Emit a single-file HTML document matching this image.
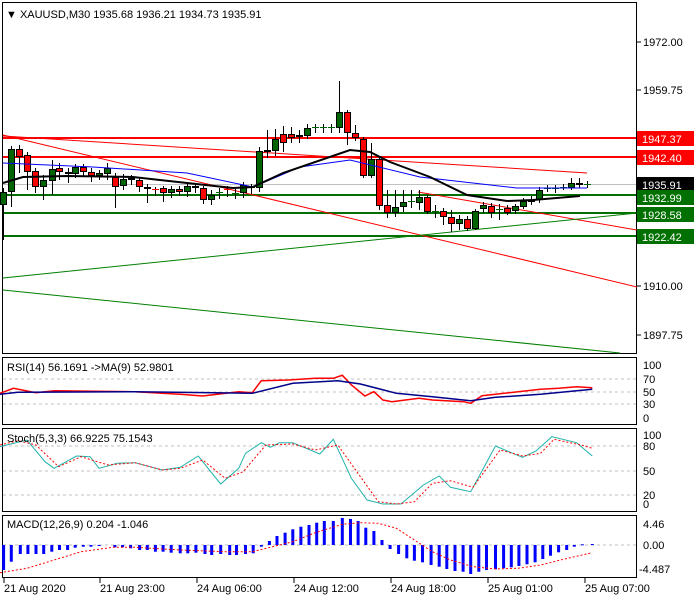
<!DOCTYPE html>
<html><head><meta charset="utf-8"><style>
body{margin:0;background:#fff;width:700px;height:600px;overflow:hidden}
svg{display:block}
text{font-family:"Liberation Sans",sans-serif;font-size:11px}
</style></head><body>
<svg id="s" width="700" height="600" xmlns="http://www.w3.org/2000/svg">
<rect width="700" height="600" fill="#fff"/>
<g fill="none" stroke="#000" stroke-width="1">
<rect x="2.5" y="2.5" width="634" height="351"/>
<rect x="2.5" y="357.5" width="634" height="67"/>
<rect x="2.5" y="428.5" width="634" height="83"/>
<rect x="2.5" y="515.5" width="634" height="62"/>
</g>
<g id="g"></g>
<text x="6" y="18" font-size="12">▼ XAUUSD,M30  1935.68 1936.21 1934.73 1935.91</text>
<g font-size="11">
<text x="643" y="46">1972.00</text><text x="643" y="94">1959.75</text>
<text x="643" y="290">1910.00</text><text x="643" y="339">1897.75</text>
<text x="7" y="371">RSI(14) 56.1691  -&gt;MA(9) 52.9801</text>
<text x="643" y="369">100</text><text x="643" y="383">70</text><text x="643" y="396">50</text><text x="643" y="408">30</text><text x="643" y="422">0</text>
<text x="7" y="442">Stoch(5,3,3) 66.9225 75.1543</text>
<text x="643" y="439">100</text><text x="643" y="450">80</text><text x="643" y="475">50</text><text x="643" y="499">20</text><text x="643" y="508">0</text>
<text x="7" y="528">MACD(12,26,9) 0.204 -1.046</text>
<text x="643" y="528">4.46</text><text x="643" y="549">0.00</text><text x="639" y="573">-4.487</text>
<text x="4" y="592">21 Aug 2020</text><text x="100" y="592">21 Aug 23:00</text><text x="197" y="592">24 Aug 06:00</text>
<text x="294" y="592">24 Aug 12:00</text><text x="391" y="592">24 Aug 18:00</text><text x="488" y="592">25 Aug 01:00</text><text x="585" y="592">25 Aug 07:00</text>
</g>
</svg>
<script>
var g=document.getElementById('g'),h='';
function L(x1,y1,x2,y2,c,w,d){h+='<line x1="'+x1+'" y1="'+y1+'" x2="'+x2+'" y2="'+y2+'" stroke="'+c+'" stroke-width="'+(w||1)+'"'+(d?' stroke-dasharray="'+d+'"':'')+'/>';}
function P(pts,c,w,d){h+='<polyline fill="none" points="'+pts.map(function(p){return p.join(',')}).join(' ')+'" stroke="'+c+'" stroke-width="'+(w||1)+'"'+(d?' stroke-dasharray="'+d+'"':'')+'/>';}
function R(x,y,w,hh,c){h+='<rect x="'+x+'" y="'+y+'" width="'+w+'" height="'+hh+'" fill="'+c+'"/>';}
// grid dashed
[379,392,404].forEach(function(y){L(3,y,636,y,'#c0c0c0',1,'3,3')});
[446,471,495].forEach(function(y){L(3,y,636,y,'#c0c0c0',1,'3,3')});
L(3,545,636,545,'#c0c0c0',1,'3,3');
L(3,184.5,636,184.5,'#c0c0c0',1);
// horizontal levels
L(3,138,636,138,'#f00',2);L(3,157,636,157,'#f00',2);
L(3,195,636,195,'#007000',2);L(3,213,636,213,'#007000',2);L(3,236,636,236,'#007000',2);
// diagonals
L(3,135,637,287,'#f00',1);L(3,136,587,173,'#f00',1);L(418,192,637,230,'#f00',1);
L(3,278,637,213,'#008000',1);L(3,290,620,353,'#008000',1);
// candles: x, bodyTop, bodyBot, wickTop, wickBot, up?
var C=[[3,192,205,188,240,1],[11,149,192,146,207,1],[19,149,157,145,173,0],[27,155,172,152,190,0],[35,171,187,168,193,0],[43,180,187,175,200,1],[52,169,181,160,195,1],[59,168,172,163,180,0],[68,172,174,168,183,0],[75,167,174,164,178,1],[83,167,172,164,176,0],[91,172,176,168,182,0],[99,173,176,170,180,1],[107,168,174,163,180,1],[115,177,187,173,208,0],[123,179,186,174,190,1],[131,178,180,175,185,0],[139,180,187,177,192,0],[147,187,189,184,203,0],[155,189,190,187,196,0],[163,188,193,186,202,0],[171,189,193,186,198,1],[179,189,192,186,196,0],[187,186,192,182,197,1],[195,186,188,183,193,0],[203,188,200,186,204,0],[211,195,200,190,205,1],[219,192,193,188,199,1],[227,189,190,186,197,0],[235,193,194,188,199,1],[243,185,193,182,198,1],[251,187,188,184,194,1],[259,151,188,147,192,1],[267,150,152,130,158,1],[275,139,151,129,156,1],[283,134,143,126,152,0],[291,134,138,127,143,0],[299,135,137,130,143,1],[307,128,136,124,139,1],[315,127,128,124,133,1],[323,127,128,124,133,1],[331,127,128,124,133,1],[339,112,128,81,133,1],[347,112,133,110,145,0],[355,133,138,125,141,0],[363,139,176,137,178,0],[371,159,176,143,178,1],[379,159,206,157,210,0],[387,205,213,190,218,0],[395,207,213,190,217,1],[403,202,207,190,212,1],[411,201,202,190,208,1],[419,197,203,190,210,1],[427,197,212,195,214,0],[435,211,212,205,218,1],[443,211,217,208,225,0],[451,217,224,210,232,0],[459,219,224,215,230,1],[467,219,229,216,231,0],[475,211,229,209,230,1],[483,205,209,202,213,1],[491,206,213,203,218,0],[499,209,210,204,220,1],[507,208,213,205,215,0],[515,206,211,204,214,1],[523,201,207,198,209,1],[531,200,202,196,205,1],[539,190,200,187,203,1],[547,188,189,185,192,1],[555,188,189,185,193,1],[563,187,188,184,190,1],[571,183,188,178,190,1],[579,183,185,178,188,0],[587,184,185,181,188,1]];
C.forEach(function(c){L(c[0]+0.5,c[3],c[0]+0.5,c[4],'#000',1);var hh=Math.max(1,c[2]-c[1]);R(c[0]-3,c[1],7,hh,c[5]?'#006400':'#f00');h+='<rect x="'+(c[0]-2.5)+'" y="'+(c[1]+0.5)+'" width="6" height="'+Math.max(0,hh-1)+'" fill="none" stroke="#000" stroke-width="1"/>';});
// MAs
P([[3,163],[93,167],[187,173],[253,187],[300,167],[350,160],[420,177],[517,188],[587,188]],'#00f',1);
P([[3,183],[23,177],[67,176],[133,177],[187,183],[233,188],[253,187],[283,173],[350,150],[370,152],[390,162],[430,177],[467,195],[507,201],[533,200],[580,196]],'#000',2);
// RSI
var s=2.22;function cv(a){return a.map(function(p){return [+(p[0]/s).toFixed(1),+(350+p[1]/3).toFixed(1)]})}
P(cv([[0,130],[30,115],[80,128],[120,122],[300,125],[400,133],[450,138],[530,125],[560,128],[580,92],[640,90],[700,85],[740,85],[760,76],[780,105],[810,138],[830,125],[850,150],[870,155],[930,145],[960,150],[1030,155],[1045,160],[1070,137],[1200,118],[1240,115],[1280,110],[1315,113]]),'#f00',1.5);
P(cv([[0,133],[40,127],[300,125],[560,130],[650,100],[750,92],[800,102],[880,130],[960,140],[1045,152],[1100,142],[1200,133],[1315,118]]),'#00008b',1.5);
// Stoch
P(cv([[0,290],[60,270],[100,335],[120,355],[170,318],[200,320],[220,355],[260,340],[300,338],[360,360],[400,352],[440,318],[490,402],[530,355],[545,310],[580,278],[600,292],[620,278],[650,278],[710,312],[740,268],[780,385],[815,450],[850,462],[890,462],[940,405],[975,378],[1000,412],[1045,425],[1100,288],[1160,322],[1190,303],[1225,260],[1280,278],[1315,318]]),'#20b2aa',1);
P(cv([[0,285],[40,272],[80,285],[130,350],[180,320],[240,345],[300,338],[360,360],[400,355],[450,330],[500,385],[540,365],[590,285],[650,282],[700,300],[750,285],[800,380],[840,455],[880,462],[920,455],[960,400],[1000,392],[1050,412],[1110,300],[1160,318],[1200,310],[1230,268],[1290,285],[1315,295]]),'#f00',1,'2,2');
// MACD bars
var M=[[8,660],[25,635],[45,612],[62,612],[80,612],[97,612],[115,605],[132,600],[150,600],[167,593],[185,590],[202,590],[220,588],[255,592],[272,592],[290,595],[310,600],[327,600],[345,605],[362,605],[380,608],[400,610],[417,610],[435,608],[455,612],[470,615],[490,612],[510,615],[525,615],[545,612],[562,610],[580,590],[598,573],[615,558],[633,548],[650,538],[668,530],[686,525],[703,518],[720,513],[740,513],[760,504],[778,507],[795,513],[812,533],[830,543],[848,570],[866,597],[885,612],[903,625],[920,632],[938,637],[957,645],[975,650],[992,657],[1010,663],[1028,665],[1045,672],[1063,665],[1080,660],[1100,658],[1118,655],[1135,652],[1152,648],[1170,643],[1188,637],[1205,627],[1222,617],[1240,607],[1258,600],[1275,590],[1293,583],[1315,582]];
M.forEach(function(m){var x=m[0]/s,y=350+m[1]/3;var t=Math.min(y,545),b=Math.max(y,545);R((x-1.5).toFixed(1),t.toFixed(1),3,Math.max(1,b-t).toFixed(1),'#00f')});
P(cv([[0,668],[60,655],[120,630],[180,605],[250,592],[300,592],[400,600],[500,605],[560,605],[600,592],[650,575],[700,548],[760,523],[800,518],[840,520],[880,535],[920,570],[960,605],[1000,630],[1050,650],[1100,657],[1150,655],[1200,645],[1260,625],[1315,608]]),'#f00',1,'2,2');
// price labels
function B(y,c,t,tc){R(637,y,57,15,c);h+='<text x="642" y="'+(y+12)+'" fill="'+(tc||'#fff')+'">'+t+'</text>';}
B(131,'#f00','1947.37');B(150,'#f00','1942.40');B(177,'#000','1935.91');B(190,'#007000','1932.99');B(207,'#007000','1928.58');B(229,'#007000','1922.42');
// ticks
[4,100,197,294,391,488,585].forEach(function(x){L(x,578,x,583,'#000',1)});
[42,90,286,335].forEach(function(y){L(637,y,641,y,'#000',1)});
g.innerHTML=h;
</script>
</body></html>
